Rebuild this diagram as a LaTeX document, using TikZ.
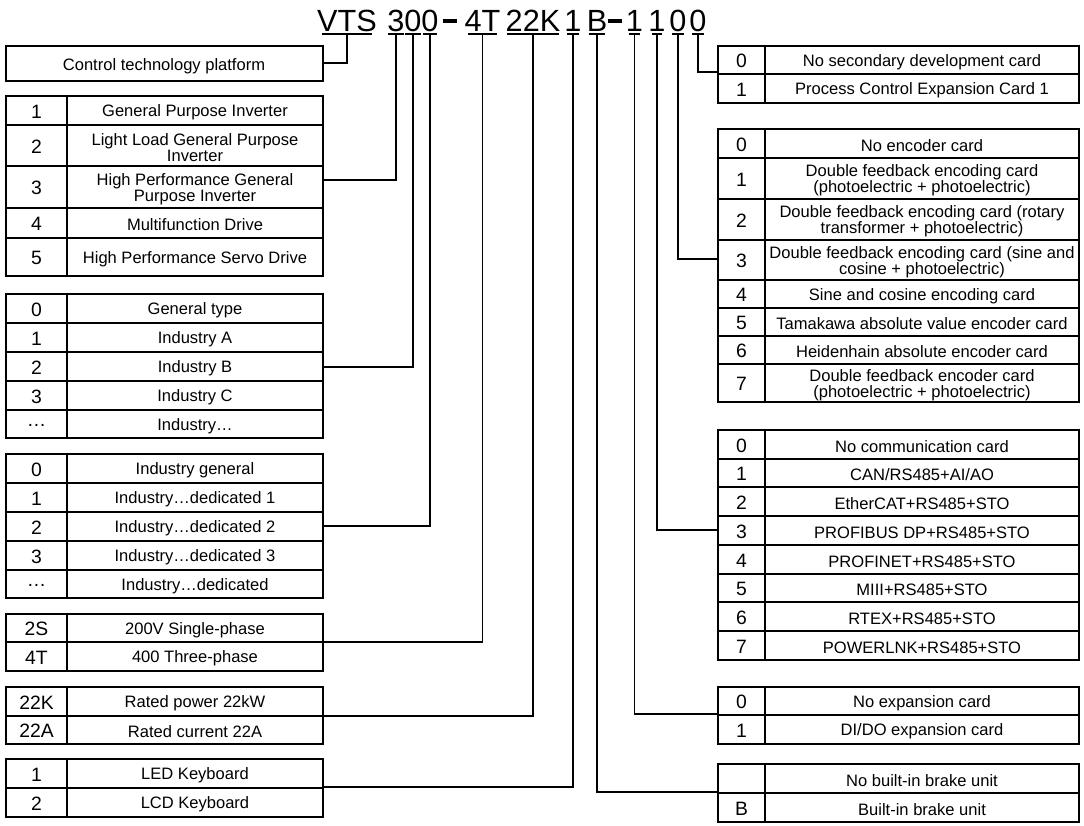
\documentclass[tikz,border=0pt]{standalone}
\usepackage{fontspec}
\setmainfont{Liberation Sans}
\usetikzlibrary{positioning}
\tikzstyle{idx}=[font=\fontsize{14.5}{15}\selectfont, inner sep=0pt, yshift=-0.8pt]
\tikzstyle{txt}=[font=\fontsize{12.4}{12.2}\selectfont, align=center, inner sep=0pt, yshift=-1.5pt]
\tikzstyle{head}=[font=\fontsize{23}{25}\selectfont, anchor=base, inner sep=0pt]
\tikzstyle{uline}=[line width=2.2pt]
\tikzstyle{wire}=[draw=black, line width=0.9pt]
% row: name, x left, x split, x right, y top, y bottom, index, text
\newcommand{\coderow}[8]{%
  \draw[line width=0.9pt] (#2,#5) rectangle (#3,#6) (#3,#5) rectangle (#4,#6);
  \node[idx] (#1i) at ({(#2+#3)/2},{(#5+#6)/2}) {#7};
  \node[txt] (#1) at ({(#3+#4)/2},{(#5+#6)/2}) {#8};}
\begin{document}
\begin{tikzpicture}[x=0.75pt, y=-0.75pt]
  \useasboundingbox (0,0) rectangle (1084,825);
  % model code
  \foreach \nm/\xa/\xb/\tx in {hvts/322/372/VTS, ha/388/404/3, hb/405/421/0, hc/423/437/0,
      hd/468/497/4T, he/507/559/22K, hf/567/579/1, hg/589/605/B,
      hh/629/640/1, hi/652/662/1, hj/672/684/0, hk/692/704/0} {
    \node[head] (\nm) at ({(\xa+\xb)/2},31) {\tx};
    \draw[uline] (\xa,34) -- (\xb,34);
    \coordinate (\nm s) at ({(\xa+\xb)/2},34);
  }
  \node[inner sep=0pt] (dash1) at (450,21) {\rule{11pt}{3pt}};
  \node[inner sep=0pt] (dash2) at (615,21) {\rule{11pt}{3pt}};

  % left tables
  \draw[line width=0.9pt] (6,46) rectangle (323,81);
  \node[txt, font=\fontsize{12.4}{12}\selectfont] (ctp) at (164,64) {Control technology platform};
  \coderow{ta1}{6}{67}{323}{96}{125}{1}{General Purpose Inverter}
  \coderow{ta2}{6}{67}{323}{125}{166}{2}{Light Load General Purpose\\Inverter}
  \coderow{ta3}{6}{67}{323}{166}{208}{3}{High Performance General\\Purpose Inverter}
  \coderow{ta4}{6}{67}{323}{208}{238}{4}{Multifunction Drive}
  \coderow{ta5}{6}{67}{323}{238}{276}{5}{High Performance Servo Drive}
  \coderow{tb0}{6}{67}{323}{294}{323}{0}{General type}
  \coderow{tb1}{6}{67}{323}{323}{352}{1}{Industry A}
  \coderow{tb2}{6}{67}{323}{352}{381}{2}{Industry B}
  \coderow{tb3}{6}{67}{323}{381}{410}{3}{Industry C}
  \coderow{tb4}{6}{67}{323}{410}{438}{\dots}{Industry\dots}
  \coderow{tc0}{6}{67}{323}{454}{483}{0}{Industry general}
  \coderow{tc1}{6}{67}{323}{483}{512}{1}{Industry\dots dedicated 1}
  \coderow{tc2}{6}{67}{323}{512}{541}{2}{Industry\dots dedicated 2}
  \coderow{tc3}{6}{67}{323}{541}{570}{3}{Industry\dots dedicated 3}
  \coderow{tc4}{6}{67}{323}{570}{598}{\dots}{Industry\dots dedicated}
  \coderow{td0}{6}{67}{323}{614}{642}{2S}{200V Single-phase}
  \coderow{td1}{6}{67}{323}{642}{671}{4T}{400 Three-phase}
  \coderow{te0}{6}{67}{323}{687}{716}{22K}{Rated power 22kW}
  \coderow{te1}{6}{67}{323}{716}{744}{22A}{Rated current 22A}
  \coderow{tf0}{6}{67}{323}{759}{788}{1}{LED Keyboard}
  \coderow{tf1}{6}{67}{323}{788}{817}{2}{LCD Keyboard}

  % right tables
  \coderow{ra0}{718}{765}{1079}{46}{74}{0}{No secondary development card}
  \coderow{ra1}{718}{765}{1079}{74}{103}{1}{Process Control Expansion Card 1}
  \coderow{rb0}{718}{765}{1079}{129}{158}{0}{No encoder card}
  \coderow{rb1}{718}{765}{1079}{158}{199}{1}{Double feedback encoding card\\(photoelectric + photoelectric)}
  \coderow{rb2}{718}{765}{1079}{199}{240}{2}{Double feedback encoding card (rotary\\transformer + photoelectric)}
  \coderow{rb3}{718}{765}{1079}{240}{280}{3}{Double feedback encoding card (sine and\\cosine + photoelectric)}
  \coderow{rb4}{718}{765}{1079}{280}{308}{4}{Sine and cosine encoding card}
  \coderow{rb5}{718}{765}{1079}{308}{336}{5}{Tamakawa absolute value encoder card}
  \coderow{rb6}{718}{765}{1079}{336}{364}{6}{Heidenhain absolute encoder card}
  \coderow{rb7}{718}{765}{1079}{364}{402}{7}{Double feedback encoder card\\(photoelectric + photoelectric)}
  \coderow{rc0}{718}{765}{1079}{430}{459}{0}{No communication card}
  \coderow{rc1}{718}{765}{1079}{459}{487}{1}{CAN/RS485+AI/AO}
  \coderow{rc2}{718}{765}{1079}{487}{516}{2}{EtherCAT+RS485+STO}
  \coderow{rc3}{718}{765}{1079}{516}{545}{3}{PROFIBUS DP+RS485+STO}
  \coderow{rc4}{718}{765}{1079}{545}{574}{4}{PROFINET+RS485+STO}
  \coderow{rc5}{718}{765}{1079}{574}{602}{5}{MIII+RS485+STO}
  \coderow{rc6}{718}{765}{1079}{602}{631}{6}{RTEX+RS485+STO}
  \coderow{rc7}{718}{765}{1079}{631}{660}{7}{POWERLNK+RS485+STO}
  \coderow{rd0}{718}{765}{1079}{687}{715}{0}{No expansion card}
  \coderow{rd1}{718}{765}{1079}{715}{744}{1}{DI/DO expansion card}
  \coderow{re0}{718}{765}{1079}{764}{793}{}{No built-in brake unit}
  \coderow{re1}{718}{765}{1079}{793}{822}{B}{Built-in brake unit}

  % connector ends
  \coordinate (pa) at (323,63);   \coordinate (pb) at (323,180);
  \coordinate (pc) at (323,367);  \coordinate (pd) at (323,526);
  \coordinate (pe) at (323,642);  \coordinate (pf) at (323,716);
  \coordinate (pg) at (323,787);  \coordinate (ph) at (718,792);
  \coordinate (pi) at (718,714);  \coordinate (pj) at (718,530);
  \coordinate (pk) at (718,259);  \coordinate (pl) at (718,72);
  \path[wire] (hvtss) |- (pa);  \path[wire] (has) |- (pb);
  \path[wire] (hbs) |- (pc);    \path[wire] (hcs) |- (pd);
  \path[wire] (hds) |- (pe);    \path[wire] (hes) |- (pf);
  \path[wire] (hfs) |- (pg);    \path[wire] (hgs) |- (ph);
  \path[wire] (hhs) |- (pi);    \path[wire] (his) |- (pj);
  \path[wire] (hjs) |- (pk);    \path[wire] (hks) |- (pl);
\end{tikzpicture}
\end{document}
